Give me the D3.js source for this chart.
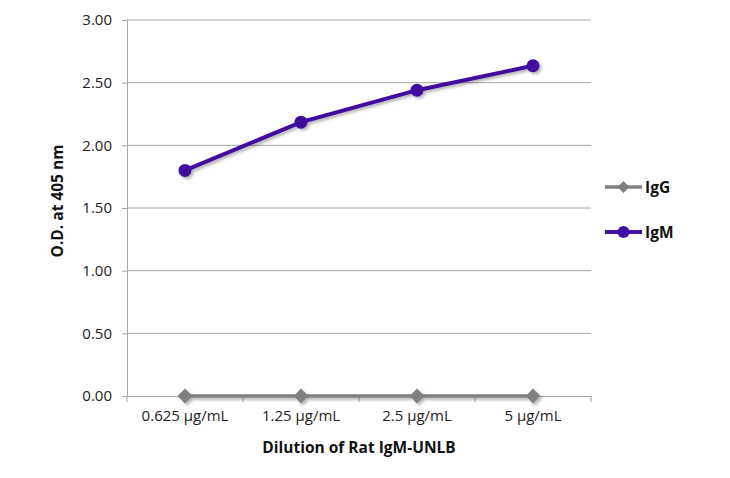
<!DOCTYPE html>
<html><head><meta charset="utf-8">
<script src="https://cdn.jsdelivr.net/npm/d3@7"></script>
<style>body{margin:0;background:#fff}svg{display:block}</style>
</head><body>
<script>
const categories = ["0.625 µg/mL","1.25 µg/mL","2.5 µg/mL","5 µg/mL"];
const igG = [0.00, 0.00, 0.00, 0.00];
const igM = [1.80, 2.185, 2.44, 2.635];
const yTicks = [0, 0.5, 1, 1.5, 2, 2.5, 3];
const seriesNames = ["IgG","IgM"];

const W=730,H=478;
const m={l:127,r:139,t:20,b:82};
const svg=d3.select("body").append("svg").attr("width",W).attr("height",H);
const defs=svg.append("defs");
const f=defs.append("filter").attr("id","sh").attr("x","-50%").attr("y","-50%").attr("width","200%").attr("height","200%");
f.append("feDropShadow").attr("dx",2).attr("dy",2).attr("stdDeviation",1.5).attr("flood-color","#000").attr("flood-opacity",0.3);

const x=d3.scaleBand().domain(categories).range([m.l,W-m.r]);
const y=d3.scaleLinear().domain([0,3]).range([H-m.b,m.t]);
const font="'Open Sans', Lato, sans-serif";
const grid="#a6a6a6";

// gridlines
svg.append("g").selectAll("line").data(yTicks.filter(d=>d>0)).join("line")
 .attr("x1",m.l).attr("x2",W-m.r).attr("y1",d=>y(d)).attr("y2",d=>y(d))
 .attr("stroke",grid).attr("stroke-width",1);

// y axis
const ya=svg.append("g").attr("transform",`translate(${m.l},0)`)
 .call(d3.axisLeft(y).tickValues(yTicks).tickFormat(d3.format(".2f")).tickSize(5).tickPadding(10));
ya.select(".domain").attr("stroke",grid);
ya.selectAll(".tick line").attr("stroke",grid);
ya.selectAll("text").attr("font-family",font).attr("font-size",15).attr("fill","#222");

// x axis
const xa=svg.append("g").attr("transform",`translate(0,${y(0)})`)
 .call(d3.axisBottom(x).tickSize(0).tickPadding(14));
xa.select(".domain").attr("stroke",grid).attr("stroke-width",1);
xa.selectAll("text").attr("font-family",font).attr("font-size",15).attr("fill","#222");
const bounds=categories.map(c=>x(c)).concat([x(categories[categories.length-1])+x.bandwidth()]);
svg.append("g").selectAll("line").data(bounds).join("line")
 .attr("x1",d=>d).attr("x2",d=>d).attr("y1",y(0)).attr("y2",y(0)+6)
 .attr("stroke",grid);

// titles
svg.append("text").attr("x",(m.l+W-m.r)/2).attr("y",453).attr("text-anchor","middle")
 .attr("font-family",font).attr("font-weight","bold").attr("font-size",15.5).attr("fill","#111")
 .text("Dilution of Rat IgM-UNLB");
svg.append("text").attr("transform","translate(63,201) rotate(-90)").attr("text-anchor","middle")
 .attr("font-family",font).attr("font-weight","bold").attr("font-size",15.5).attr("fill","#111")
 .text("O.D. at 405 nm");

const cx=d=>x(d)+x.bandwidth()/2;
const line=d3.line().x((d,i)=>cx(categories[i])).y(d=>y(d));
const colG="#808080", colM="#40109e";

const gG=svg.append("g").attr("filter","url(#sh)");
gG.append("path").datum(igG).attr("d",line).attr("fill","none").attr("stroke",colG).attr("stroke-width",3.5);
gG.selectAll("path.m").data(igG).join("path").attr("class","m")
 .attr("d",d3.symbol(d3.symbolDiamond2,140))
 .attr("transform",(d,i)=>`translate(${cx(categories[i])},${y(d)})`)
 .attr("fill",colG);

const gM=svg.append("g").attr("filter","url(#sh)");
gM.append("path").datum(igM).attr("d",line).attr("fill","none").attr("stroke",colM).attr("stroke-width",4);
gM.selectAll("circle").data(igM).join("circle")
 .attr("cx",(d,i)=>cx(categories[i])).attr("cy",d=>y(d)).attr("r",6.5).attr("fill",colM);

// legend
const leg=svg.append("g");
const ly=[187,232];
[[colG,"diamond"],[colM,"circle"]].forEach((s,i)=>{
  const g=leg.append("g").attr("transform",`translate(605,${ly[i]})`);
  g.append("line").attr("x1",0).attr("x2",37).attr("stroke",s[0]).attr("stroke-width",i?4:3.5);
  if(i) g.append("circle").attr("cx",18.5).attr("r",6).attr("fill",s[0]);
  else g.append("path").attr("d",d3.symbol(d3.symbolDiamond2,90)).attr("transform","translate(18.5,0)").attr("fill",s[0]);
  g.append("text").attr("x",40).attr("y",5.5).attr("font-family",font).attr("font-weight","bold")
   .attr("font-size",15.5).attr("fill","#111").text(seriesNames[i]);
});
</script>
</body></html>
